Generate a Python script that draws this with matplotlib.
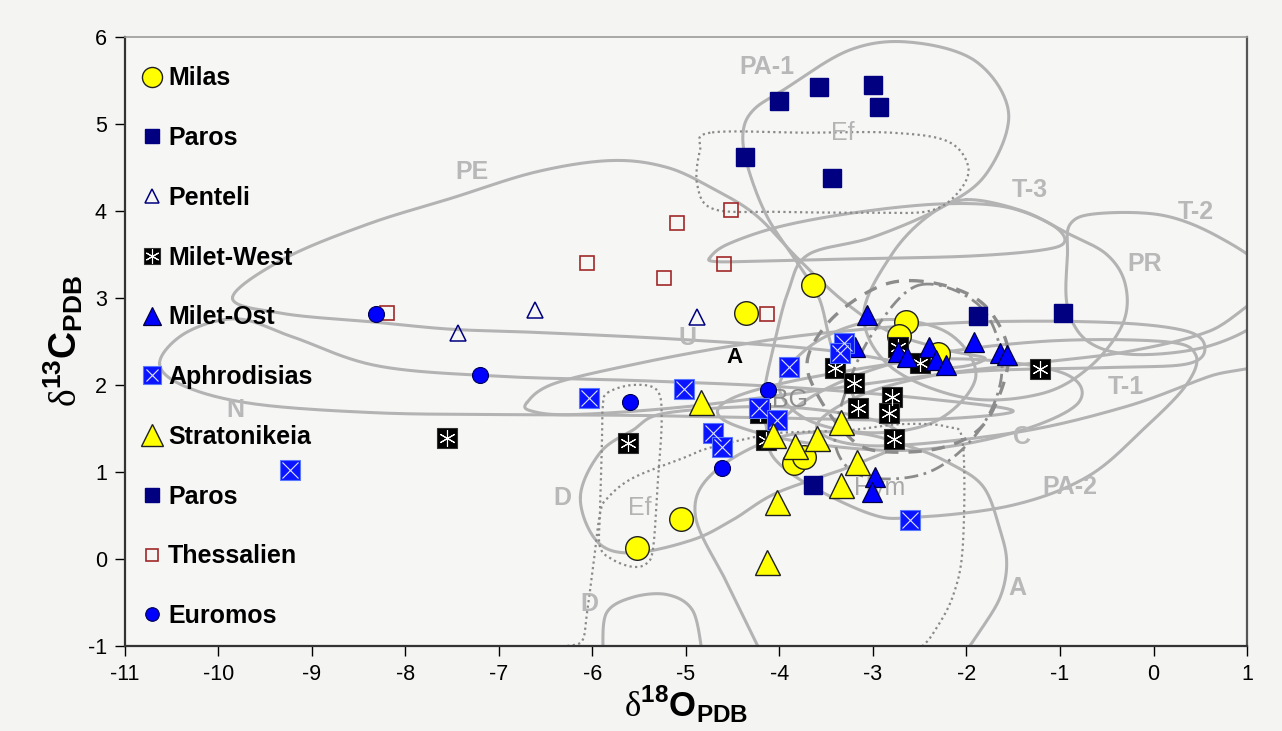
import numpy as np
import matplotlib
matplotlib.use("Agg")
import matplotlib.pyplot as plt
from matplotlib.legend_handler import HandlerTuple

plt.rcParams['font.family'] = ['Liberation Sans', 'DejaVu Sans']
plt.rcParams['mathtext.fontset'] = 'custom'
plt.rcParams['mathtext.rm'] = 'Liberation Serif'
plt.rcParams['mathtext.bf'] = 'Liberation Sans:bold'
plt.rcParams['axes.unicode_minus'] = False

# ---- sample data (d18O, d13C) ----
milas_x = [-3.64, -4.36, -2.65, -2.72, -2.30, -5.05, -5.52, -3.84, -3.74]
milas_y = [3.15, 2.83, 2.72, 2.56, 2.36, 0.46, 0.13, 1.10, 1.17]

paros_x = [-4.00, -3.58, -3.00, -2.94, -4.37, -3.44]
paros_y = [5.26, 5.43, 5.45, 5.20, 4.62, 4.38]

paros2_x = [-1.88, -0.97, -3.64]
paros2_y = [2.79, 2.83, 0.85]

penteli_x = [-7.44, -6.61, -4.88]
penteli_y = [2.60, 2.86, 2.78]

miletw_x = [-7.56, -5.62, -3.41, -3.20, -3.16, -2.73, -2.50, -1.21, -2.80, -2.83, -2.78, -4.14, -4.21]
miletw_y = [1.39, 1.33, 2.20, 2.02, 1.74, 2.44, 2.25, 2.18, 1.86, 1.68, 1.38, 1.37, 1.68]

mileto_x = [-3.06, -2.40, -2.73, -2.64, -2.33, -2.22, -1.92, -1.64, -1.57, -2.98, -3.01, -3.19]
mileto_y = [2.80, 2.44, 2.38, 2.32, 2.29, 2.23, 2.49, 2.37, 2.34, 0.94, 0.77, 2.44]

aphro_x = [-9.24, -6.04, -5.02, -3.90, -3.31, -3.35, -4.22, -4.03, -4.71, -4.62, -2.60]
aphro_y = [1.02, 1.85, 1.95, 2.21, 2.48, 2.37, 1.74, 1.60, 1.45, 1.29, 0.45]

strato_x = [-4.84, -4.07, -3.83, -3.60, -3.34, -3.17, -3.34, -4.03, -4.13]
strato_y = [1.80, 1.43, 1.30, 1.39, 1.57, 1.11, 0.85, 0.66, -0.03]

thess_x = [-4.52, -5.10, -6.06, -5.24, -4.59, -4.13, -8.20]
thess_y = [4.01, 3.86, 3.40, 3.23, 3.39, 2.82, 2.83]

euro_x = [-8.32, -7.20, -5.60, -4.61, -4.12]
euro_y = [2.82, 2.11, 1.80, 1.05, 1.94]

# ---- reference field outlines ----
pa1_line = [(-3.2, 1.85), (-3.43, 2.4), (-3.57, 2.98), (-3.78, 3.36), (-4.13, 3.93), (-4.34, 4.51),
            (-4.39, 4.9), (-4.28, 5.16), (-3.96, 5.39), (-3.25, 5.85), (-2.6, 5.94), (-1.9, 5.72),
            (-1.55, 5.13), (-1.78, 4.44), (-2.25, 4.05), (-3.0, 3.7), (-3.69, 3.5), (-3.9, 3.1),
            (-4.05, 2.5), (-4.17, 1.83), (-4.1, 1.3)]
pe_loop = [(-9.85, 3.0), (-9.3, 3.45), (-8.4, 3.85), (-7.5, 4.15), (-6.6, 4.45), (-5.8, 4.58),
           (-5.2, 4.5), (-4.7, 4.25), (-4.25, 3.95), (-3.8, 3.45), (-3.3, 2.95), (-2.8, 2.6),
           (-2.2, 2.4), (-1.8, 2.3), (-2.3, 2.2), (-3.5, 2.4), (-5.0, 2.52), (-6.5, 2.6),
           (-7.5, 2.64), (-8.3, 2.72), (-9.3, 2.82)]
n_loop = [(-10.63, 2.25), (-10.35, 2.6), (-9.8, 2.76), (-9.2, 2.55), (-8.3, 2.22), (-7.0, 2.1),
          (-5.5, 2.05), (-4.0, 1.98), (-2.5, 1.85), (-1.5, 1.7), (-2.5, 1.6), (-4.0, 1.62),
          (-5.5, 1.65), (-7.0, 1.66), (-8.3, 1.68), (-9.6, 1.78), (-10.35, 1.98)]
u_loop = [(-6.7, 1.8), (-6.4, 2.02), (-5.5, 2.25), (-4.5, 2.45), (-3.5, 2.6), (-2.0, 2.72),
          (-0.5, 2.72), (0.35, 2.62), (0.55, 2.42), (0.35, 2.24), (-0.5, 2.2), (-2.0, 2.15),
          (-3.5, 1.95), (-5.0, 1.75), (-6.2, 1.66), (-6.65, 1.7)]
t3_loop = [(-4.74, 3.47), (-4.55, 3.62), (-4.0, 3.82), (-3.2, 3.98), (-2.3, 4.08), (-1.6, 4.05),
           (-1.1, 3.85), (-0.95, 3.65), (-1.2, 3.55), (-2.0, 3.48), (-3.2, 3.45), (-4.3, 3.42),
           (-4.7, 3.42)]
pr_loop = [(-2.0, 4.13), (-1.4, 4.0), (-0.93, 3.75), (-0.5, 3.5), (-0.3, 3.15), (-0.33, 2.7),
           (-0.68, 2.21), (-1.2, 1.9), (-2.0, 1.85), (-2.8, 2.2), (-3.1, 2.8), (-2.8, 3.5),
           (-2.4, 3.95)]
t2_loop = [(-0.92, 3.5), (-0.89, 3.85), (-0.6, 3.97), (0.1, 3.95), (0.7, 3.7), (1.2, 3.3),
           (1.2, 2.8), (0.6, 2.45), (-0.2, 2.35), (-0.7, 2.5), (-0.92, 2.9)]
t1_loop = [(1.2, 3.0), (0.6, 2.62), (-0.3, 2.38), (-1.3, 2.25), (-2.4, 2.1), (-3.2, 1.85),
           (-3.6, 1.5), (-3.0, 1.3), (-1.5, 1.45), (-0.3, 1.75), (0.6, 2.1), (1.2, 2.3)]
pa2_loop = [(-3.9, 1.0), (-3.06, 0.53), (-2.53, 0.48), (-1.5, 0.62), (-0.7, 0.95), (-0.1, 1.5),
            (0.35, 2.0), (0.45, 2.35), (0.1, 2.5), (-1.2, 2.5), (-2.6, 2.3), (-3.6, 1.9), (-4.1, 1.4)]
c_loop = [(-4.6, 1.6), (-3.8, 1.35), (-2.6, 1.25), (-1.5, 1.45), (-0.8, 1.8), (-1.0, 2.15),
          (-2.2, 2.3), (-3.6, 2.1), (-4.5, 1.85)]
bg_loop = [(-4.0, 2.0), (-3.6, 2.5), (-2.9, 2.75), (-2.2, 2.6), (-1.9, 2.1), (-2.3, 1.6),
           (-3.0, 1.45), (-3.7, 1.6)]
a_line = [(-4.21, -1.05), (-4.55, -0.3), (-4.9, 0.5), (-4.7, 1.0), (-4.0, 1.4), (-3.2, 1.45),
          (-2.6, 1.29), (-2.18, 1.1), (-1.82, 0.83), (-1.64, 0.33), (-1.57, -0.05), (-1.64, -0.44),
          (-1.85, -0.82), (-2.0, -1.05)]
d_loop = [(-6.13, 0.71), (-5.95, 0.2), (-5.57, 0.07), (-4.93, 0.22), (-4.5, 0.45), (-4.03, 0.76),
          (-3.25, 1.06), (-2.7, 1.35), (-3.0, 1.6), (-4.0, 1.75), (-5.2, 1.68), (-5.57, 1.48),
          (-5.92, 1.22)]
d2_line = [(-5.89, -1.05), (-5.85, -0.62), (-5.57, -0.44), (-5.2, -0.41), (-4.93, -0.59), (-4.83, -1.05)]

ef1_loop = [(-4.74, 4.9), (-4.85, 4.7), (-4.88, 4.3), (-4.7, 4.02), (-4.0, 3.99), (-3.0, 3.98),
            (-2.4, 4.0), (-2.1, 4.2), (-1.98, 4.5), (-2.2, 4.8), (-2.8, 4.9), (-3.7, 4.9)]
ef2_loop = [(-5.84, 1.91), (-5.57, 2.0), (-5.31, 1.94), (-5.26, 1.6), (-5.3, 0.91), (-5.35, 0.14),
            (-5.42, -0.05), (-5.57, -0.09), (-5.78, -0.01), (-5.92, 0.14), (-5.92, 0.53),
            (-5.9, 1.29), (-5.89, 1.75)]
hym_dotted = [(-6.27, -1.0), (-6.11, -0.94), (-6.06, -0.63), (-5.99, -0.06), (-5.92, 0.52),
              (-5.84, 0.7), (-5.57, 0.93), (-5.03, 1.16), (-4.74, 1.28), (-4.13, 1.43),
              (-3.78, 1.46), (-3.25, 1.48), (-2.7, 1.55), (-2.21, 1.52), (-2.04, 1.33),
              (-2.04, 0.14), (-2.15, -0.44), (-2.36, -0.86), (-2.47, -1.0)]
hym_dashed = [(-2.6, 3.2), (-2.1, 3.1), (-1.75, 2.85), (-1.55, 2.35), (-1.7, 1.75), (-1.95, 1.42),
              (-2.4, 1.25), (-3.0, 1.25), (-3.3, 1.45), (-3.6, 1.9), (-3.7, 2.3), (-3.45, 2.75),
              (-3.0, 3.1)]
hym_dashdot = [(-2.5, 3.15), (-1.85, 2.9), (-1.62, 2.2), (-1.85, 1.5), (-2.4, 1.0), (-3.1, 0.95),
               (-3.4, 1.3), (-3.3, 1.9), (-3.0, 2.6)]

field_labels = [("PA-1", -4.13, 5.66), ("PE", -7.29, 4.45), ("T-3", -1.32, 4.24), ("T-2", 0.45, 3.99),
                ("PR", -0.09, 3.39), ("U", -4.98, 2.54), ("N", -9.82, 1.71), ("T-1", -0.30, 1.98),
                ("C", -1.41, 1.40), ("PA-2", -0.89, 0.83), ("D", -6.32, 0.70), ("A", -1.46, -0.33),
                ("D", -6.03, -0.52)]
thin_labels = [("Ef", -3.32, 4.90, '#b4b4b4'), ("Ef", -5.49, 0.59, '#b4b4b4'),
               ("BG", -3.89, 1.83, '#8c8c8c'), ("Hym", -2.93, 0.82, '#a8a8a8')]


def spline(pts, closed=True, n=24):
    p = np.asarray(pts, float)
    if closed:
        p = np.vstack([p[-1], p, p[0], p[1]])
    else:
        p = np.vstack([p[0], p, p[-1]])
    t = np.linspace(0, 1, n, endpoint=False)[:, None]
    segs = []
    for i in range(1, len(p) - 2):
        p0, p1, p2, p3 = p[i - 1], p[i], p[i + 1], p[i + 2]
        segs.append(0.5 * (2 * p1 + (-p0 + p2) * t + (2 * p0 - 5 * p1 + 4 * p2 - p3) * t ** 2
                           + (-p0 + 3 * p1 - 3 * p2 + p3) * t ** 3))
    segs.append(p[-2][None])
    return np.vstack(segs)


bg = '#f4f5f2'
fig = plt.figure(figsize=(12.82, 7.31), dpi=100, facecolor=bg)
ax = fig.add_axes([0.0975, 0.1163, 0.8752, 0.8331])
ax.set_facecolor('#f6f7f5')

solid = dict(color='#b3b3b3', lw=2.2, zorder=1, solid_capstyle='round')
for shape in [pe_loop, n_loop, u_loop, t3_loop, pr_loop, t2_loop, t1_loop, pa2_loop, c_loop,
              bg_loop, d_loop]:
    c = spline(shape, closed=True)
    ax.plot(c[:, 0], c[:, 1], **solid)
for shape in [pa1_line, a_line, d2_line]:
    c = spline(shape, closed=False)
    ax.plot(c[:, 0], c[:, 1], **solid)

for shape in [ef1_loop, ef2_loop]:
    c = spline(shape, closed=True)
    ax.plot(c[:, 0], c[:, 1], color='#8a8a8a', lw=1.6, ls=(0, (1, 1.5)), zorder=1.2)
c = spline(hym_dotted, closed=False)
ax.plot(c[:, 0], c[:, 1], color='#8a8a8a', lw=1.6, ls=(0, (1, 1.5)), zorder=1.2)
c = spline(hym_dashed, closed=True)
ax.plot(c[:, 0], c[:, 1], color='#8c8c8c', lw=2.4, ls=(0, (4, 3)), zorder=1.3)
c = spline(hym_dashdot, closed=True)
ax.plot(c[:, 0], c[:, 1], color='#8c8c8c', lw=2.0, ls=(0, (5, 2, 1, 2)), zorder=1.3)

for txt, x, y in field_labels:
    ax.text(x, y, txt, color='#b8b8b8', fontsize=18, fontweight='bold', ha='center', va='center',
            zorder=1.5)
for txt, x, y, col in thin_labels:
    ax.text(x, y, txt, color=col, fontsize=18, ha='center', va='center', zorder=1.5)
ax.text(-4.48, 2.32, "A", color='black', fontsize=16, fontweight='bold', ha='center', va='center',
        zorder=1.5)

# ---- data series ----
h_thess, = ax.plot(thess_x, thess_y, 's', ms=10.5, mfc='none', mec='#a02828', mew=1.2, zorder=3)
h_euro, = ax.plot(euro_x, euro_y, 'o', ms=11.5, mfc='#0000ff', mec='#000050', mew=0.8, zorder=3)
h_milas, = ax.plot(milas_x, milas_y, 'o', ms=17, mfc='#ffff00', mec='#202020', mew=1.0, zorder=3)
h_paros, = ax.plot(paros_x, paros_y, 's', ms=12.5, mfc='#000080', mec='#000080', zorder=3)
h_paros2, = ax.plot(paros2_x, paros2_y, 's', ms=12.5, mfc='#000080', mec='#000080', zorder=3)
h_pent, = ax.plot(penteli_x, penteli_y, '^', ms=11.5, mfc='none', mec='#000080', mew=1.1, zorder=3)
h_mw, = ax.plot(miletw_x, miletw_y, 's', ms=14, mfc='black', mec='#303030', mew=0.8, zorder=4)
h_mw2, = ax.plot(miletw_x, miletw_y, marker=(6, 2, 0), ls='none', ms=12, mec='white', mew=0.8,
                 zorder=4.1)
h_mo, = ax.plot(mileto_x, mileto_y, '^', ms=15, mfc='#0000ff', mec='#000040', mew=0.9, zorder=5)
h_aph, = ax.plot(aphro_x, aphro_y, 's', ms=14.5, mfc='#0a14ff', mec='#5a78ff', mew=0.8, zorder=6)
h_aph2, = ax.plot(aphro_x, aphro_y, 'x', ms=11, mec='#dde4ff', mew=0.8, zorder=6.1)
h_str, = ax.plot(strato_x, strato_y, '^', ms=18, mfc='#ffff00', mec='#202020', mew=1.0, zorder=7)

handles = [h_milas, h_paros, h_pent, (h_mw, h_mw2), h_mo, (h_aph, h_aph2), h_str, h_paros2,
           h_thess, h_euro]
labels = ["Milas", "Paros", "Penteli", "Milet-West", "Milet-Ost", "Aphrodisias", "Stratonikeia",
          "Paros", "Thessalien", "Euromos"]
leg = ax.legend(handles, labels, loc='upper left', bbox_to_anchor=(0.006, 0.968), frameon=False,
                prop={'weight': 'bold', 'size': 18}, handlelength=0.85, handletextpad=0.2,
                labelspacing=1.43, borderaxespad=0, markerscale=0.85,
                handler_map={tuple: HandlerTuple(ndivide=1, pad=0)})
leg.set_zorder(10)

ax.set_xlim(-11, 1)
ax.set_ylim(-1, 6)
ax.set_xticks(np.arange(-11, 2, 1))
ax.set_yticks(np.arange(-1, 7, 1))
ax.tick_params(direction='out', length=7, width=1, labelsize=15.5, colors='black', pad=6)
for s in ['left', 'bottom']:
    ax.spines[s].set_linewidth(1.6)
    ax.spines[s].set_color('#333333')
ax.spines['top'].set_color('#9a9a9a')
ax.spines['top'].set_linewidth(1.2)
ax.spines['right'].set_color('#555555')
ax.spines['right'].set_linewidth(1.6)

ax.set_xlabel(r'$\mathrm{\delta}^{\mathbf{18}}\mathbf{O}_{\mathbf{PDB}}$', fontsize=25, labelpad=-1)
ax.set_ylabel(r'$\mathrm{\delta}^{\mathbf{13}}\mathbf{C}_{\mathbf{PDB}}$', fontsize=27, labelpad=2)

fig.savefig("out.png", dpi=100, facecolor=bg)
